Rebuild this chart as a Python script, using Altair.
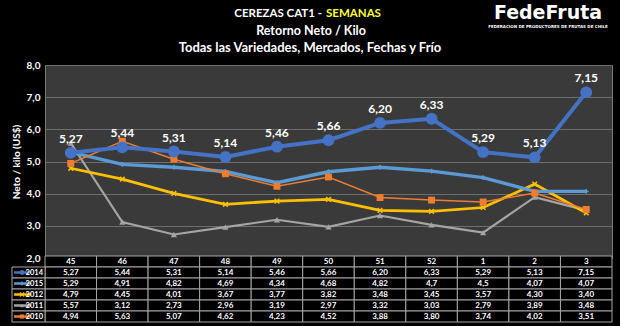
import altair as alt
import pandas as pd

weeks = ["45", "46", "47", "48", "49", "50", "51", "52", "1", "2", "3"]
series = ["2014", "2015", "2012", "2011", "2010"]
v2014 = [5.27, 5.44, 5.31, 5.14, 5.46, 5.66, 6.20, 6.33, 5.29, 5.13, 7.15]
v2015 = [5.29, 4.91, 4.82, 4.69, 4.34, 4.68, 4.82, 4.7, 4.5, 4.07, 4.07]
v2012 = [4.79, 4.45, 4.01, 3.67, 3.77, 3.82, 3.48, 3.45, 3.57, 4.30, 3.40]
v2011 = [5.57, 3.12, 2.73, 2.96, 3.19, 2.97, 3.32, 3.03, 2.79, 3.89, 3.48]
v2010 = [4.94, 5.63, 5.07, 4.62, 4.23, 4.52, 3.88, 3.80, 3.74, 4.02, 3.51]
values = {"2014": v2014, "2015": v2015, "2012": v2012, "2011": v2011, "2010": v2010}

colors = ["#4472C4", "#5B9BD5", "#FFC000", "#A5A5A5", "#ED7D31"]
widths = [4, 1.5, 2.2, 1.8, 2.4]
X_PATH = "M-1,-1L1,1M1,-1L-1,1"
PLUS_PATH = "M-1,0L1,0M0,-1L0,1"
marker = {  # shape, size, filled, strokeWidth
    "2014": ("circle", 140, True, 0),
    "2015": (PLUS_PATH, 24, False, 1.5),
    "2012": (X_PATH, 22, False, 1.5),
    "2011": ("triangle-up", 38, True, 0),
    "2010": ("square", 48, True, 0),
}

title1a = "CEREZAS CAT1 -"
title1b = "SEMANAS"
title2 = "Retorno Neto / Kilo"
title3 = "Todas las Variedades, Mercados, Fechas y Frío"
y_title = "Neto / kilo (US$)"
logo = "FedeFruta"
logo_sub = "FEDERACION DE PRODUCTORES DE FRUTAS DE CHILE"
header = "hdr"

FONT = "Lato"
W, H = 567, 193

# long-form data, 2014 last so it is drawn on top
draw_order = ["2011", "2012", "2015", "2010", "2014"]
rows = []
for s in draw_order:
    for w, v in zip(weeks, values[s]):
        rows.append({"series": s, "week": w, "value": v,
                     "label": f"{v:.2f}".replace(".", ",")})
df = pd.DataFrame(rows)

cells = []
for w in weeks:
    cells.append({"row": header, "week": w, "txt": w})
for s in series:
    for w, v in zip(weeks, values[s]):
        t = (f"{v:g}" if s == "2015" else f"{v:.2f}").replace(".", ",")
        cells.append({"row": s, "week": w, "txt": t})
cells_df = pd.DataFrame(cells)
leg_df = pd.DataFrame({"series": series, "row": series})

xscale = alt.Scale(type="band", domain=weeks, paddingInner=0, paddingOuter=0)
color_enc = alt.Color("series:N", scale=alt.Scale(domain=series, range=colors), legend=None)
sw_enc = alt.StrokeWidth("series:N", scale=alt.Scale(domain=series, range=widths), legend=None)

yenc = alt.Y("value:Q", scale=alt.Scale(domain=[2, 8], nice=False, zero=False),
             axis=alt.Axis(values=[2, 3, 4, 5, 6, 7, 8], title=y_title,
                           labelExpr="replace(format(datum.value, '.1f'), '.', ',')",
                           domain=False, ticks=False, grid=True, gridColor="#6e6e6e",
                           gridWidth=1, labelColor="#ffffff", labelFont=FONT,
                           labelFontSize=10, labelFontWeight="bold", labelPadding=5,
                           titleColor="#ffffff", titleFont=FONT, titleFontSize=10,
                           titleFontWeight="bold", titlePadding=5))
xenc = alt.X("week:N", scale=xscale, sort=weeks, axis=None, bandPosition=0.5)

base = alt.Chart(df)
lines = base.mark_line().encode(x=xenc, y=yenc, color=color_enc, strokeWidth=sw_enc,
                                detail="series:N")
point_layers = []
for s in draw_order:
    shp, sz, filled, sw = marker[s]
    kw = dict(shape=shp, size=sz, filled=filled, opacity=1)
    if not filled:
        kw["strokeWidth"] = sw
    point_layers.append(base.transform_filter(alt.datum.series == s).mark_point(**kw).encode(
        x=xenc, y=yenc, color=color_enc))
labels = base.transform_filter(alt.datum.series == "2014").mark_text(
    dy=-14, color="#ffffff", font=FONT, fontSize=12, fontWeight="bold").encode(
    x=xenc, y=yenc, text="label:N")
plot = alt.layer(lines, *point_layers, labels)

row_domain = [header] + series
yrow = alt.Scale(type="band", domain=row_domain, range=[191, 257], paddingInner=0, paddingOuter=0)
yr = alt.Y("row:N", scale=yrow, axis=None)
yr_c = alt.Y("row:N", scale=yrow, axis=None, bandPosition=0.5)

cell_rects = alt.Chart(cells_df).mark_rect(fill="#000000", stroke="#a6a6a6", strokeWidth=1).encode(
    x=alt.X("week:N", scale=xscale, sort=weeks, axis=None), y=yr)
cell_text = alt.Chart(cells_df).mark_text(color="#ffffff", font=FONT, fontSize=8,
                                          fontWeight="bold", baseline="middle").encode(
    x=xenc, y=yr_c, text="txt:N")
leg_rects = alt.Chart(leg_df).mark_rect(fill="#000000", stroke="#a6a6a6", strokeWidth=1).encode(
    x=alt.value(-33), x2=alt.value(0), y=yr)
leg_lines = alt.Chart(leg_df).mark_rule(strokeWidth=2.5).encode(
    x=alt.value(-31), x2=alt.value(-14), y=yr_c, color=color_enc)
leg_pts = []
for s in series:
    shp, sz, filled, sw = marker[s]
    kw = dict(shape=shp, size=18 if s != "2014" else 24, filled=filled, opacity=1)
    if not filled:
        kw["strokeWidth"] = 1.2
    leg_pts.append(alt.Chart(leg_df).transform_filter(alt.datum.series == s).mark_point(**kw).encode(
        x=alt.value(-23), y=yr_c, color=color_enc))
leg_text = alt.Chart(leg_df).mark_text(color="#ffffff", font=FONT, fontSize=7.5,
                                       fontWeight="bold", align="right", baseline="middle").encode(
    x=alt.value(-2), y=yr_c, text="series:N")
table = alt.layer(cell_rects, cell_text, leg_rects, leg_lines, *leg_pts, leg_text)

one = pd.DataFrame({"a": title1a, "b": title1b, "c": title2, "d": title3,
                    "e": logo, "f": logo_sub}, index=[0])
tchart = alt.Chart(one)
tkw = dict(font=FONT, fontWeight="bold", baseline="middle")
t1a = tchart.mark_text(color="#ffffff", align="right", fontSize=11.5, **tkw).encode(
    text="a:N", x=alt.value(277), y=alt.value(-51.5))
t1b = tchart.mark_text(color="#FFFF33", align="left", fontSize=11.5, **tkw).encode(
    text="b:N", x=alt.value(281), y=alt.value(-51.5))
t2 = tchart.mark_text(color="#ffffff", align="center", fontSize=12.5, **tkw).encode(
    text="c:N", x=alt.value(266), y=alt.value(-34))
t3 = tchart.mark_text(color="#ffffff", align="center", fontSize=13, **tkw).encode(
    text="d:N", x=alt.value(265), y=alt.value(-17))
lg = tchart.mark_text(color="#ffffff", align="center", font="DejaVu Sans", fontSize=19,
                      fontWeight="bold", baseline="middle").encode(
    text="e:N", x=alt.value(503), y=alt.value(-52))
lg2 = tchart.mark_text(color="#ffffff", align="center", font="DejaVu Sans", fontSize=4,
                       fontWeight="bold", baseline="middle").encode(
    text="f:N", x=alt.value(503), y=alt.value(-38))
titles = alt.layer(t1a, t1b, t2, t3, lg, lg2)

chart = alt.layer(plot, table, titles).resolve_scale(y="independent").properties(
    width=W, height=H, background="#000000",
    padding={"left": 45, "top": 65, "right": 8, "bottom": 68},
    autosize=alt.AutoSizeParams(type="none"),
).configure_view(fill="#3a3a3a", stroke="#7a7a7a", strokeWidth=1)

chart.save("out.html", embed_options={"renderer": "svg", "actions": False})
